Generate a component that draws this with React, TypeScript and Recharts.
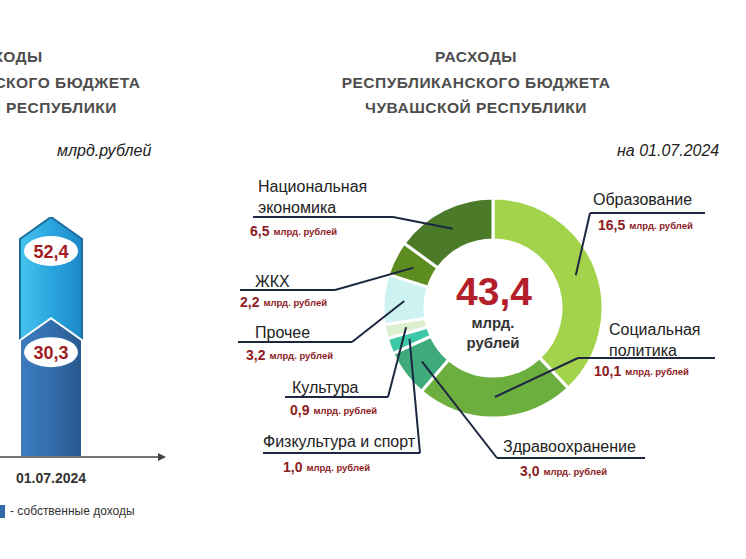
import React from 'react'
import { PieChart, Pie, Cell, BarChart, Bar, XAxis, YAxis, LabelList } from 'recharts'

// расходы по направлениям, по часовой стрелке от верха
const expenseCategories = [
  'Образование',
  'Социальная политика',
  'Здравоохранение',
  'Физкультура и спорт',
  'Культура',
  'Прочее',
  'ЖКХ',
  'Национальная экономика'
]
const expenseValues = [16.5, 10.1, 3.0, 1.0, 0.9, 3.2, 2.2, 6.5]
const expenseTotal = 43.4

// доходы (левая панель, обрезана)
const incomeDates = ['01.07.2024']
const incomeTotal = [52.4]
const incomeOwn = [30.3]

const sliceColors = ['#a3d34a', '#6daf3f', '#3fab7c', '#3dc9a8', '#dcefcf', '#cdf2f2', '#5d8d20', '#4b7b29']

const FONT = 'Arial, "Liberation Sans", sans-serif'
const RAD = Math.PI / 180

// где стоят подписи (координаты страницы)
const labelPos = [
  { x: 593, y: 199, wrap: false, ux1: 590, ux2: 705, uy: 213, vx: 598, vy: 225, side: 'right' },
  { x: 609, y: 329, wrap: true, ux1: 578, ux2: 715, uy: 358, vx: 594, vy: 371, side: 'right' },
  { x: 503, y: 446, wrap: false, ux1: 497, ux2: 645, uy: 458, vx: 520, vy: 471, side: 'right' },
  { x: 263, y: 441, wrap: false, ux1: 263, ux2: 420, uy: 453, vx: 283, vy: 467, side: 'left' },
  { x: 292, y: 387, wrap: false, ux1: 285, ux2: 388, uy: 397, vx: 290, vy: 410, side: 'left' },
  { x: 255, y: 332, wrap: false, ux1: 238, ux2: 352, uy: 342, vx: 246, vy: 355, side: 'left' },
  { x: 255, y: 281, wrap: false, ux1: 240, ux2: 335, uy: 290, vx: 240, vy: 302, side: 'left' },
  { x: 258, y: 186, wrap: true, ux1: 253, ux2: 393, uy: 217, vx: 250, vy: 231, side: 'left' }
]

const fmt = (v: number) => v.toFixed(1).replace('.', ',')

const pieData = expenseCategories.map((name, i) => ({ name, value: expenseValues[i] }))
const barData = incomeDates.map((date, i) => ({ date, total: incomeTotal[i], own: incomeOwn[i] }))

const renderLabel = (props: any) => {
  const { cx, cy, midAngle, innerRadius, outerRadius } = props
  const index = props.index ?? expenseCategories.indexOf(props.name)
  const p = labelPos[index]
  if (!p) return null
  const r = (innerRadius + outerRadius) / 2
  const px = cx + r * Math.cos(-midAngle * RAD)
  const py = cy + r * Math.sin(-midAngle * RAD)
  const ax = p.side === 'right' ? p.ux1 : p.ux2
  const name = expenseCategories[index]
  const lines = p.wrap ? name.split(' ') : [name]
  return (
    <g>
      <line x1={p.ux1} y1={p.uy} x2={p.ux2} y2={p.uy} stroke="#1d2742" strokeWidth={2} />
      <line x1={ax} y1={p.uy} x2={px} y2={py} stroke="#1d2742" strokeWidth={2} />
      {lines.map((l, i) => (
        <text key={i} x={p.x} y={p.y + i * 21} dominantBaseline="central" fontSize={16} fill="#222" fontFamily={FONT}>
          {l}
        </text>
      ))}
      <text x={p.vx} y={p.vy} dominantBaseline="central" fill="#8e1c1f" fontWeight="bold" fontFamily={FONT}>
        <tspan fontSize={14}>{fmt(expenseValues[index])}</tspan>
        <tspan fontSize={9.5} dx={4}>млрд. рублей</tspan>
      </text>
    </g>
  )
}

const Chevron = (props: any) => {
  const { x, y, width, height, fill, stroke } = props
  const d = 22
  const path = `M${x},${y + d} L${x + width / 2},${y} L${x + width},${y + d} L${x + width},${y + height} L${x},${y + height} Z`
  return <path d={path} fill={fill} stroke={stroke} strokeWidth={2} />
}

const ValueBubble = (props: any) => {
  const { x, y, width, value } = props
  const mx = x + width / 2
  const my = y + 34
  return (
    <g>
      <ellipse cx={mx} cy={my} rx={27} ry={15} fill="#fff" />
      <text x={mx} y={my + 1} textAnchor="middle" dominantBaseline="central" fontSize={18} fontWeight="bold" fill="#a01d22" fontFamily={FONT}>
        {fmt(value)}
      </text>
    </g>
  )
}

const titleStyle: React.CSSProperties = {
  position: 'absolute',
  width: 400,
  textAlign: 'center',
  fontFamily: FONT,
  fontWeight: 'bold',
  fontSize: 15.5,
  color: '#4d4d4d',
  letterSpacing: '0.5px',
  lineHeight: '25.5px'
}

export default function App() {
  return (
    <div style={{ position: 'fixed', left: 0, top: 0, width: 746, height: 559, overflow: 'hidden', background: '#fff', fontFamily: FONT }}>
      {/* заголовки */}
      <div style={{ ...titleStyle, left: -194, top: 44 }}>
        ДОХОДЫ<br />РЕСПУБЛИКАНСКОГО БЮДЖЕТА<br />ЧУВАШСКОЙ РЕСПУБЛИКИ
      </div>
      <div style={{ ...titleStyle, left: 276, top: 44 }}>
        РАСХОДЫ<br />РЕСПУБЛИКАНСКОГО БЮДЖЕТА<br />ЧУВАШСКОЙ РЕСПУБЛИКИ
      </div>
      <div style={{ position: 'absolute', left: 57, top: 142, fontSize: 16, fontStyle: 'italic', color: '#222' }}>млрд.рублей</div>
      <div style={{ position: 'absolute', left: 617, top: 142, fontSize: 16, fontStyle: 'italic', color: '#222' }}>на 01.07.2024</div>

      {/* доходы */}
      <div style={{ position: 'absolute', left: -58, top: 150 }}>
        <BarChart width={218} height={340} data={barData} margin={{ top: 67, right: 0, left: 0, bottom: 3 }} barGap={-62}>
          <defs>
            <linearGradient id="lightBlue" x1="0" y1="0" x2="1" y2="0">
              <stop offset="0%" stopColor="#47c3ee" />
              <stop offset="50%" stopColor="#2aa6df" />
              <stop offset="100%" stopColor="#1d88c6" />
            </linearGradient>
            <linearGradient id="darkBlue" x1="0" y1="0" x2="1" y2="0">
              <stop offset="0%" stopColor="#3d7cc0" />
              <stop offset="50%" stopColor="#336ead" />
              <stop offset="100%" stopColor="#28598f" />
            </linearGradient>
          </defs>
          <XAxis
            dataKey="date"
            height={30}
            tickLine={false}
            tickMargin={10}
            axisLine={{ stroke: '#444', strokeWidth: 1.5 }}
            tick={{ fontSize: 14, fontWeight: 'bold', fill: '#333', fontFamily: FONT }}
          />
          <YAxis hide domain={[0, 'dataMax']} allowDataOverflow />
          <Bar dataKey="total" barSize={62} fill="url(#lightBlue)" stroke="#1b6d9e" shape={<Chevron />} isAnimationActive={false}>
            <LabelList dataKey="total" content={<ValueBubble />} />
          </Bar>
          <Bar dataKey="own" barSize={62} fill="url(#darkBlue)" stroke="#ffffff" shape={<Chevron />} isAnimationActive={false}>
            <LabelList dataKey="own" content={<ValueBubble />} />
          </Bar>
        </BarChart>
      </div>
      <svg style={{ position: 'absolute', left: 0, top: 0 }} width={746} height={559} pointerEvents="none">
        <polygon points="158,453 166,457 158,461" fill="#444" />
      </svg>
      <div style={{ position: 'absolute', left: -4, top: 505, width: 9, height: 13, background: '#2f6aa9' }} />
      <div style={{ position: 'absolute', left: 10, top: 504, fontSize: 12, color: '#333' }}>- собственные доходы</div>

      {/* расходы */}
      <div style={{ position: 'absolute', left: 0, top: 0 }}>
        <PieChart width={746} height={559} margin={{ top: 0, right: 0, bottom: 0, left: 0 }}>
          <Pie
            data={pieData}
            dataKey="value"
            nameKey="name"
            cx={493}
            cy={308}
            innerRadius={68}
            outerRadius={110}
            startAngle={90}
            endAngle={-270}
            stroke="#ffffff"
            strokeWidth={3}
            label={renderLabel}
            labelLine={false}
            isAnimationActive={false}
          >
            {pieData.map((_, i) => (
              <Cell key={i} fill={sliceColors[i]} />
            ))}
          </Pie>
        </PieChart>
      </div>
      <div style={{ position: 'absolute', left: 394, top: 268, width: 200, textAlign: 'center', fontSize: 39, fontWeight: 'bold', color: '#b31f2b', lineHeight: '48px' }}>
        {fmt(expenseTotal)}
      </div>
      <div style={{ position: 'absolute', left: 393, top: 313, width: 200, textAlign: 'center', fontSize: 15, fontWeight: 'bold', color: '#333', lineHeight: '20px' }}>
        млрд.<br />рублей
      </div>
    </div>
  )
}
